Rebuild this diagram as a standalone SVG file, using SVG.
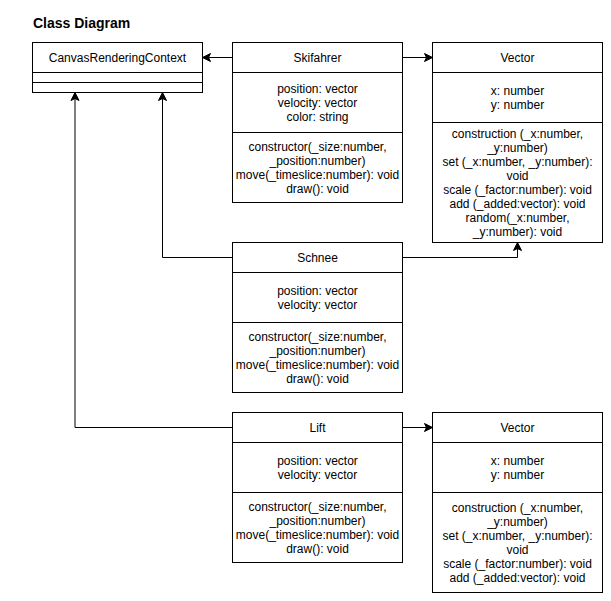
<svg xmlns="http://www.w3.org/2000/svg" width="611" height="601" viewBox="0 0 611 601">
<style>
.box{fill:#ffffff;stroke:#000000;stroke-width:1}
.div{stroke:#000000;stroke-width:1;fill:none}
.t{font-family:"Liberation Sans",Arial,Helvetica,sans-serif;font-size:12px;fill:#000000;text-anchor:middle}
.title{font-family:"Liberation Sans",Arial,Helvetica,sans-serif;font-size:14px;font-weight:bold;fill:#000000}
.edge{fill:none;stroke:#000000;stroke-width:1}
</style>
<defs>
<marker id="arrow" viewBox="0 0 10 10" refX="9" refY="5" markerWidth="10" markerHeight="10" markerUnits="userSpaceOnUse" orient="auto">
<path d="M9,5 L1,1 L3,5 L1,9 Z" fill="#000000" stroke="#000000" stroke-width="1"/>
</marker>
</defs>
<rect x="0" y="0" width="611" height="601" fill="#ffffff"/>
<text class="title" x="33" y="28">Class Diagram</text>

<g id="connectors">
<path class="edge" d="M232.5,57.5 L202.5,57.5" marker-end="url(#arrow)"/>
<path class="edge" d="M402.5,57.5 L432.5,57.5" marker-end="url(#arrow)"/>
<path class="edge" d="M232.5,257.5 L162.5,257.5 L162.5,92.5" marker-end="url(#arrow)"/>
<path class="edge" d="M402.5,257.5 L517.5,257.5 L517.5,242.5" marker-end="url(#arrow)"/>
<path class="edge" d="M232.5,427.5 L75,427.5 L75,92.5" marker-end="url(#arrow)"/>
<path class="edge" d="M402.5,427.5 L432.5,427.5" marker-end="url(#arrow)"/>
</g>

<g id="canvas">
<rect class="box" x="32.5" y="42.5" width="170" height="50"/>
<path class="div" d="M32.5,72.5 H202.5 M32.5,82.5 H202.5"/>
<text class="t" x="117.5" y="61.5">CanvasRenderingContext</text>
</g>

<g id="skifahrer">
<rect class="box" x="232.5" y="42.5" width="170" height="160"/>
<path class="div" d="M232.5,72.5 H402.5 M232.5,132.5 H402.5"/>
<text class="t" x="317.5" y="61.5">Skifahrer</text>
<text class="t" x="317.5" y="92.5">position: vector</text>
<text class="t" x="317.5" y="106.5">velocity: vector</text>
<text class="t" x="317.5" y="120.5">color: string</text>
<text class="t" x="317.5" y="150.5">constructor(_size:number,</text>
<text class="t" x="317.5" y="164.5">_position:number)</text>
<text class="t" x="317.5" y="178.5">move(_timeslice:number): void</text>
<text class="t" x="317.5" y="192.5">draw(): void</text>
</g>

<g id="vector1">
<rect class="box" x="432.5" y="42.5" width="170" height="200"/>
<path class="div" d="M432.5,72.5 H602.5 M432.5,122.5 H602.5"/>
<text class="t" x="517.5" y="61.5">Vector</text>
<text class="t" x="517.5" y="94.5">x: number</text>
<text class="t" x="517.5" y="108.5">y: number</text>
<text class="t" x="517.5" y="137.5">construction (_x:number,</text>
<text class="t" x="517.5" y="151.5">_y:number)</text>
<text class="t" x="517.5" y="165.5">set (_x:number, _y:number):</text>
<text class="t" x="517.5" y="179.5">void</text>
<text class="t" x="517.5" y="193.5">scale (_factor:number): void</text>
<text class="t" x="517.5" y="207.5">add (_added:vector): void</text>
<text class="t" x="517.5" y="221.5">random(_x:number,</text>
<text class="t" x="517.5" y="235.5">_y:number): void</text>
</g>

<g id="schnee">
<rect class="box" x="232.5" y="242.5" width="170" height="150"/>
<path class="div" d="M232.5,272.5 H402.5 M232.5,322.5 H402.5"/>
<text class="t" x="317.5" y="261.5">Schnee</text>
<text class="t" x="317.5" y="294.5">position: vector</text>
<text class="t" x="317.5" y="308.5">velocity: vector</text>
<text class="t" x="317.5" y="340.5">constructor(_size:number,</text>
<text class="t" x="317.5" y="354.5">_position:number)</text>
<text class="t" x="317.5" y="368.5">move(_timeslice:number): void</text>
<text class="t" x="317.5" y="382.5">draw(): void</text>
</g>

<g id="lift">
<rect class="box" x="232.5" y="412.5" width="170" height="150"/>
<path class="div" d="M232.5,442.5 H402.5 M232.5,492.5 H402.5"/>
<text class="t" x="317.5" y="431.5">Lift</text>
<text class="t" x="317.5" y="464.5">position: vector</text>
<text class="t" x="317.5" y="478.5">velocity: vector</text>
<text class="t" x="317.5" y="510.5">constructor(_size:number,</text>
<text class="t" x="317.5" y="524.5">_position:number)</text>
<text class="t" x="317.5" y="538.5">move(_timeslice:number): void</text>
<text class="t" x="317.5" y="552.5">draw(): void</text>
</g>

<g id="vector2">
<rect class="box" x="432.5" y="412.5" width="170" height="180"/>
<path class="div" d="M432.5,442.5 H602.5 M432.5,492.5 H602.5"/>
<text class="t" x="517.5" y="431.5">Vector</text>
<text class="t" x="517.5" y="464.5">x: number</text>
<text class="t" x="517.5" y="478.5">y: number</text>
<text class="t" x="517.5" y="511.5">construction (_x:number,</text>
<text class="t" x="517.5" y="525.5">_y:number)</text>
<text class="t" x="517.5" y="539.5">set (_x:number, _y:number):</text>
<text class="t" x="517.5" y="553.5">void</text>
<text class="t" x="517.5" y="567.5">scale (_factor:number): void</text>
<text class="t" x="517.5" y="581.5">add (_added:vector): void</text>
</g>
</svg>
